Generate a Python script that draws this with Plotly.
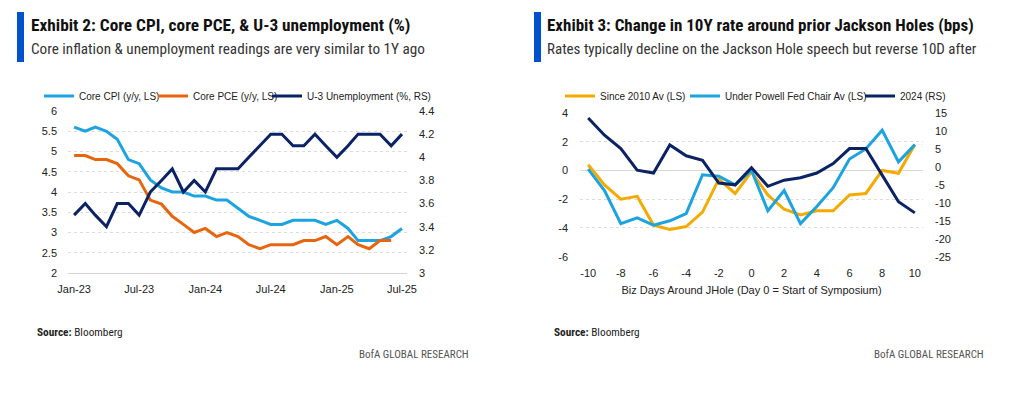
import plotly.graph_objects as go

W, H = 1025, 399

# ---------------- Data: Exhibit 2 ----------------
months = ["2023-01-01","2023-02-01","2023-03-01","2023-04-01","2023-05-01","2023-06-01",
          "2023-07-01","2023-08-01","2023-09-01","2023-10-01","2023-11-01","2023-12-01",
          "2024-01-01","2024-02-01","2024-03-01","2024-04-01","2024-05-01","2024-06-01",
          "2024-07-01","2024-08-01","2024-09-01","2024-10-01","2024-11-01","2024-12-01",
          "2025-01-01","2025-02-01","2025-03-01","2025-04-01","2025-05-01","2025-06-01",
          "2025-07-01"]
core_cpi = [5.6, 5.5, 5.6, 5.5, 5.3, 4.8, 4.7, 4.3, 4.1, 4.0, 4.0, 3.9,
            3.9, 3.8, 3.8, 3.6, 3.4, 3.3, 3.2, 3.2, 3.3, 3.3, 3.3, 3.2,
            3.3, 3.1, 2.8, 2.8, 2.8, 2.9, 3.1]
core_pce = [4.9, 4.9, 4.8, 4.8, 4.7, 4.4, 4.3, 3.8, 3.7, 3.4, 3.2, 3.0,
            3.1, 2.9, 3.0, 2.9, 2.7, 2.6, 2.7, 2.7, 2.7, 2.8, 2.8, 2.9,
            2.7, 2.9, 2.7, 2.6, 2.8, 2.8, None]
u3 = [3.5, 3.6, 3.5, 3.4, 3.6, 3.6, 3.5, 3.7, 3.8, 3.9, 3.7, 3.8,
      3.7, 3.9, 3.9, 3.9, 4.0, 4.1, 4.2, 4.2, 4.1, 4.1, 4.2, 4.1,
      4.0, 4.1, 4.2, 4.2, 4.2, 4.1, 4.2]
ex2_left_ticks = [2, 2.5, 3, 3.5, 4, 4.5, 5, 5.5, 6]
ex2_right_ticks = [3, 3.2, 3.4, 3.6, 3.8, 4, 4.2, 4.4]

# ---------------- Data: Exhibit 3 ----------------
days = list(range(-10, 11))
since_2010 = [0.4, -1.0, -2.0, -1.8, -3.8, -4.1, -3.9, -2.9, -0.6, -1.6, -0.1,
              -1.7, -2.7, -3.1, -2.8, -2.8, -1.7, -1.6, 0.0, -0.2, 1.8]
powell = [0.1, -1.4, -3.7, -3.3, -3.8, -3.5, -3.0, -0.3, -0.4, -1.0, 0.0,
          -2.8, -1.4, -3.7, -2.5, -1.2, 0.8, 1.5, 2.8, 0.6, 1.8]
y2024 = [13.6, 8.8, 5.1, -0.9, -1.7, 6.1, 3.1, 1.8, -4.5, -5.0, -0.2,
         -5.4, -3.7, -3.0, -1.7, 0.9, 5.1, 5.1, -2.3, -9.7, -12.8]
ex3_x_ticks = [-10, -8, -6, -4, -2, 0, 2, 4, 6, 8, 10]
ex3_left_ticks = [-6, -4, -2, 0, 2, 4]
ex3_right_ticks = [-25, -20, -15, -10, -5, 0, 5, 10, 15]


def lbl(v):
    return "%g" % v


TICKFONT = dict(family="Liberation Sans, Arial, sans-serif", size=11, color="#222222")
LEGFONT = dict(family="Liberation Sans, Arial, sans-serif", size=10, color="#222222")
TITLEFONT = "Liberation Sans Narrow, Roboto Condensed, Arial Narrow, Liberation Sans, sans-serif"


def px_x(p):
    return p / W


def px_y(p):
    return 1 - p / H


fig = go.Figure()

C_CPI = "#1CA3E0"
C_PCE = "#E8650F"
C_U3 = "#0B2265"
C_GOLD = "#F5AA00"
C_LB = "#1CA3E0"
C_NAVY = "#0B2265"

fig.add_trace(go.Scatter(x=months, y=core_cpi, name="Core CPI (y/y, LS)", mode="lines",
                         line=dict(color=C_CPI, width=3), xaxis="x", yaxis="y", legend="legend"))
fig.add_trace(go.Scatter(x=months, y=core_pce, name="Core PCE (y/y, LS)", mode="lines",
                         line=dict(color=C_PCE, width=3), xaxis="x", yaxis="y", legend="legend2"))
fig.add_trace(go.Scatter(x=months, y=u3, name="U-3 Unemployment (%, RS)", mode="lines",
                         line=dict(color=C_U3, width=3), xaxis="x", yaxis="y2", legend="legend3"))

fig.add_trace(go.Scatter(x=days, y=since_2010, name="Since 2010 Av (LS)", mode="lines",
                         line=dict(color=C_GOLD, width=3), xaxis="x2", yaxis="y3", legend="legend4"))
fig.add_trace(go.Scatter(x=days, y=powell, name="Under Powell Fed Chair Av (LS)", mode="lines",
                         line=dict(color=C_LB, width=3), xaxis="x2", yaxis="y3", legend="legend5"))
fig.add_trace(go.Scatter(x=days, y=y2024, name="2024 (RS)", mode="lines",
                         line=dict(color=C_NAVY, width=3), xaxis="x2", yaxis="y4", legend="legend6"))

# domains
ex2_xdom = [px_x(68), px_x(407)]
ex2_ydom = [px_y(273), px_y(111)]
ex3_xdom = [px_x(580), px_x(923)]
ex3_ydom = [px_y(256.7), px_y(113)]


def leg(xpx):
    return dict(orientation="h", x=px_x(xpx), xanchor="left", y=px_y(96), yanchor="middle",
                font=LEGFONT, bgcolor="rgba(0,0,0,0)", borderwidth=0, itemwidth=30,
                tracegroupgap=0)


fig.update_layout(
    width=W, height=H,
    margin=dict(l=0, r=0, t=0, b=0, pad=0, autoexpand=False),
    paper_bgcolor="white", plot_bgcolor="white",
    showlegend=True,
    xaxis=dict(domain=ex2_xdom, anchor="y", type="date", automargin=False,
               range=["2022-12-15", "2025-07-15"],
               dtick="M6", tick0="2023-01-01", tickformat="%b-%y",
               showgrid=False, zeroline=False, showline=True, linecolor="#d4d4d4", linewidth=1,
               ticks="", tickfont=TICKFONT, ticklabelstandoff=6),
    yaxis=dict(domain=ex2_ydom, anchor="x", range=[2, 6], automargin=False,
               tickvals=ex2_left_ticks, ticktext=[lbl(v) for v in ex2_left_ticks],
               showgrid=True, gridcolor="#dcdcdc", griddash="dot", gridwidth=1,
               zeroline=False, ticks="", tickfont=TICKFONT, ticklabelstandoff=10),
    yaxis2=dict(domain=ex2_ydom, anchor="x", overlaying="y", side="right", range=[3, 4.4],
                automargin=False,
                tickvals=ex2_right_ticks, ticktext=[lbl(v) for v in ex2_right_ticks],
                showgrid=False, zeroline=False, ticks="", tickfont=TICKFONT, ticklabelstandoff=11),
    xaxis2=dict(domain=ex3_xdom, anchor="y3", range=[-10.5, 10.5], automargin=False,
                tickvals=ex3_x_ticks, ticktext=[lbl(v) for v in ex3_x_ticks],
                showgrid=False, zeroline=False, showline=False, ticks="", tickfont=TICKFONT,
                ticklabelstandoff=8,
                title=dict(text="Biz Days Around JHole (Day 0 = Start of Symposium)",
                           font=dict(family="Liberation Sans, Arial, sans-serif", size=11,
                                     color="#222222"),
                           standoff=8)),
    yaxis3=dict(domain=ex3_ydom, anchor="x2", range=[-6, 4], automargin=False,
                tickvals=ex3_left_ticks, ticktext=[lbl(v) for v in ex3_left_ticks],
                showgrid=True, gridcolor="#dcdcdc", griddash="dot", gridwidth=1,
                zeroline=True, zerolinecolor="#d9d9d9", zerolinewidth=1,
                ticks="", tickfont=TICKFONT, ticklabelstandoff=11),
    yaxis4=dict(domain=ex3_ydom, anchor="x2", overlaying="y3", side="right", range=[-25, 15],
                automargin=False,
                tickvals=ex3_right_ticks, ticktext=[lbl(v) for v in ex3_right_ticks],
                showgrid=False, zeroline=False, ticks="", tickfont=TICKFONT, ticklabelstandoff=11),
    legend=leg(39),
    legend2=leg(153),
    legend3=leg(267),
    legend4=leg(560),
    legend5=leg(685),
    legend6=leg(860),
)

# Header bars
for x0, x1 in [(17, 24), (534, 541)]:
    fig.add_shape(type="rect", xref="paper", yref="paper",
                  x0=px_x(x0), x1=px_x(x1), y0=px_y(62), y1=px_y(12),
                  fillcolor="#0052CC", line=dict(width=0))


def ann(text, x, y, size, color="#111111", family=TITLEFONT, anchor="left"):
    fig.add_annotation(text=text, xref="paper", yref="paper", x=px_x(x), y=px_y(y),
                       xanchor=anchor, yanchor="middle", showarrow=False,
                       font=dict(family=family, size=size, color=color))


ann("<b>Exhibit 2: Core CPI, core PCE, &amp; U-3 unemployment (%)</b>", 29, 25, 17.3)
ann("Core inflation &amp; unemployment readings are very similar to 1Y ago", 29, 49, 15.2,
    color="#333333")
ann("<b>Exhibit 3: Change in 10Y rate around prior Jackson Holes (bps)</b>", 545, 25, 17)
ann("Rates typically decline on the Jackson Hole speech but reverse 10D after", 545, 49, 15,
    color="#333333")

ann("<b>Source:</b> Bloomberg", 35, 332, 11.3, color="#222222")
ann("<b>Source:</b> Bloomberg", 552, 332, 11.3, color="#222222")
ann("BofA GLOBAL RESEARCH", 357, 354, 11, color="#555555")
ann("BofA GLOBAL RESEARCH", 872, 354, 11, color="#555555")

fig.write_html("out.html", config={"displayModeBar": False},
               post_script="document.body.style.margin='0';document.body.style.padding='0';")
